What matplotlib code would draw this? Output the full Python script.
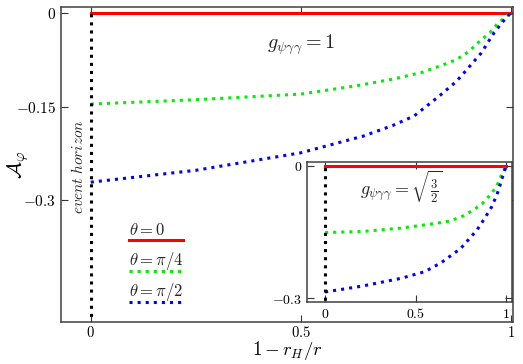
import matplotlib
matplotlib.use("Agg")
import matplotlib.pyplot as plt
import numpy as np

plt.rcParams['mathtext.fontset'] = 'cm'
plt.rcParams['font.family'] = 'DejaVu Serif'

#%% data
# main panel, g = 1
x_red = [0, 1]
y_red = [0, 0]
x_green = [0, 0.25, 0.5, 0.63, 0.72, 0.79, 0.84, 0.87, 0.9, 0.93, 0.95, 0.97, 0.985, 1]
y_green = [-0.146, -0.139, -0.13, -0.117, -0.106, -0.095, -0.083, -0.075, -0.062, -0.043, -0.032, -0.016, -0.008, 0]
x_blue = [0, 0.25, 0.5, 0.65, 0.72, 0.77, 0.83, 0.87, 0.89, 0.93, 0.96, 0.98, 1]
y_blue = [-0.271, -0.252, -0.224, -0.197, -0.18, -0.165, -0.133, -0.11, -0.095, -0.064, -0.032, -0.015, 0]

# inset, g = sqrt(3/2)
xi_green = [0, 0.2, 0.42, 0.6, 0.69, 0.76, 0.82, 0.87, 0.92, 0.95, 0.97, 1]
yi_green = [-0.151, -0.149, -0.141, -0.131, -0.125, -0.114, -0.1, -0.085, -0.062, -0.045, -0.025, 0]
xi_blue = [0, 0.2, 0.42, 0.55, 0.64, 0.75, 0.84, 0.88, 0.92, 0.95, 0.97, 0.99, 1]
yi_blue = [-0.286, -0.273, -0.255, -0.24, -0.22, -0.187, -0.145, -0.12, -0.093, -0.065, -0.039, -0.012, 0]

labels = [r'$\theta=0$', r'$\theta=\pi/4$', r'$\theta=\pi/2$']
colors = ['#ff0000', '#00ee00', '#0000ff']

main_xticks = [0, 0.5, 1]
main_xticklabels = [r'$0$', r'$0.5$', r'$1$']
main_yticks = [0, -0.15, -0.3]
main_yticklabels = [r'$0$', r'$-0.15$', r'$-0.3$']
ins_yticks = [0, -0.3]
ins_yticklabels = [r'$0$', r'$-0.3$']

#%% figure
fig = plt.figure(figsize=(5.23, 3.64), dpi=100)
ax = fig.add_axes([0.1166, 0.115, 0.864, 0.866])

def style(a, fs):
    for s in a.spines.values():
        s.set_color('0.25')
        s.set_linewidth(1.1)
    a.tick_params(direction='in', top=True, right=True, length=5, width=0.8,
                  labelsize=fs, color='0.2')

lw = 2.2
ax.plot(x_red, y_red, '-', color=colors[0], lw=lw)
ax.plot(x_green, y_green, ':', color=colors[1], lw=lw)
ax.plot(x_blue, y_blue, ':', color=colors[2], lw=lw)
ax.plot([0, 0], [-0.6, 0], ':', color='black', lw=lw)
ax.set_xlim(-0.071, 1.005)
ax.set_ylim(-0.495, 0.0095)
ax.set_xticks(main_xticks)
ax.set_xticklabels(main_xticklabels)
ax.set_yticks(main_yticks)
ax.set_yticklabels(main_yticklabels)
style(ax, 11)
ax.tick_params(axis='x', pad=2, labelsize=10.5)
ax.set_xlabel(r'$1-r_H/r$', fontsize=13.5)
ax.xaxis.set_label_coords(0.5, -0.089)
ax.xaxis.label.set_va('center')
ax.set_ylabel(r'$\mathcal{A}_\varphi$', fontsize=15)
ax.yaxis.set_label_coords(-0.095, 0.5)
ax.yaxis.label.set_va('center')
ax.text(-0.031, -0.246, r'$event\ horizon$', rotation=90, fontsize=11,
        ha='center', va='center', color='0.15')
ax.text(0.5, -0.051, r'$g_{\psi\gamma\gamma}=1$', fontsize=14.5,
        ha='center', va='center', color='0.15')

# hand made legend: text above its line
leg_y = [0.26, 0.162, 0.064]
for lab, c, ls, yy in zip(labels, colors, ['-', ':', ':'], leg_y):
    ax.text(0.15, yy + 0.018, lab, transform=ax.transAxes, fontsize=12,
            ha='left', va='baseline', color='0.15')
    ax.plot([0.15, 0.269], [yy, yy], ls, color=c, lw=lw, transform=ax.transAxes)

#%% inset
axi = fig.add_axes([0.587, 0.17, 0.392, 0.385])
axi.plot(x_red, y_red, '-', color=colors[0], lw=lw)
axi.plot(xi_green, yi_green, ':', color=colors[1], lw=lw)
axi.plot(xi_blue, yi_blue, ':', color=colors[2], lw=lw)
axi.plot([0, 0], [-0.6, 0], ':', color='black', lw=lw)
axi.set_xlim(-0.1, 1.033)
axi.set_ylim(-0.309, 0.009)
axi.set_xticks(main_xticks)
axi.set_xticklabels(main_xticklabels)
axi.set_yticks(ins_yticks)
axi.set_yticklabels(ins_yticklabels)
style(axi, 10)
axi.text(0.42, -0.048, r'$g_{\psi\gamma\gamma}=\sqrt{\frac{3}{2}}$', fontsize=13,
         ha='center', va='center', color='0.15')

fig.savefig('out.png', dpi=100)
